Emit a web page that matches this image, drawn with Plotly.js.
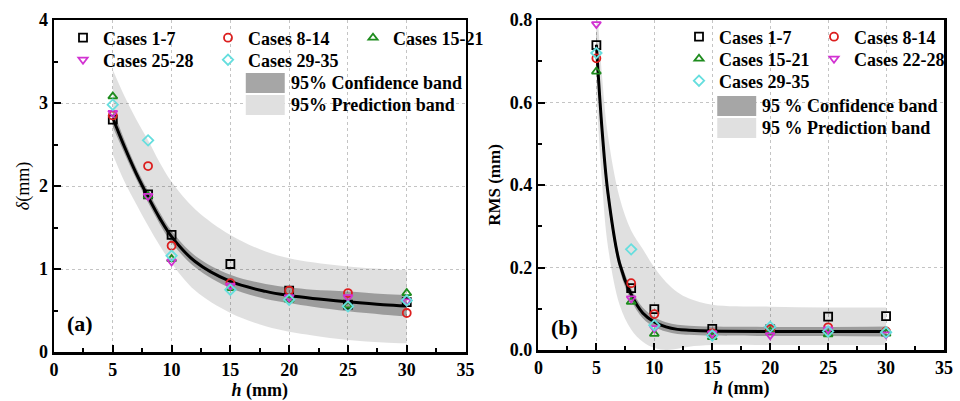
<!DOCTYPE html>
<html>
<head>
<meta charset="utf-8">
<script src="https://cdn.plot.ly/plotly-3.0.1.min.js"></script>
<style>html,body{margin:0;padding:0;background:#fff;}#chart{width:960px;height:401px;}</style>
</head>
<body>
<div id="chart"></div>
<script>
// ---------- data ----------
const hCases = [5, 8, 10, 15, 20, 25, 30];

// panel (a): delta (mm)
const dCases1_7   = [2.80, 1.90, 1.41, 1.06, 0.74, 0.57, 0.60];
const dCases8_14  = [2.85, 2.24, 1.28, 0.83, 0.74, 0.71, 0.47];
const dCases15_21 = [3.08, 1.88, 1.12, 0.77, 0.63, 0.56, 0.71];
const dCases25_28 = [2.88, 1.88, 1.09, 0.80, 0.66, 0.66, 0.61];
const dCases29_35 = [2.98, 2.55, 1.16, 0.75, 0.63, 0.55, 0.62];

const hFitA   = [5, 6, 7, 8, 9, 10, 12, 15, 18, 20, 22, 25, 28, 30];
const dFit    = [2.82, 2.47, 2.15, 1.87, 1.61, 1.39, 1.09, 0.85, 0.73, 0.68, 0.645, 0.605, 0.57, 0.555];
const dConfUp = [2.93, 2.55, 2.22, 1.94, 1.68, 1.46, 1.16, 0.93, 0.82, 0.78, 0.75, 0.73, 0.70, 0.69];
const dConfLo = [2.71, 2.39, 2.08, 1.80, 1.54, 1.32, 1.02, 0.77, 0.64, 0.59, 0.545, 0.49, 0.45, 0.43];
const dPredUp = [3.40, 3.08, 2.80, 2.55, 2.28, 2.05, 1.72, 1.41, 1.21, 1.13, 1.08, 1.03, 1.00, 0.99];
const dPredLo = [2.38, 2.05, 1.78, 1.52, 1.28, 1.07, 0.74, 0.47, 0.31, 0.245, 0.20, 0.145, 0.115, 0.105];

// panel (b): RMS (mm)
const rCases1_7   = [0.739, 0.150, 0.099, 0.051, 0.050, 0.081, 0.082];
const rCases8_14  = [0.707, 0.162, 0.087, 0.040, 0.050, 0.055, 0.045];
const rCases15_21 = [0.675, 0.117, 0.039, 0.031, 0.045, 0.038, 0.040];
const rCases22_28 = [0.790, 0.125, 0.053, 0.040, 0.036, 0.050, 0.038];
const rCases29_35 = [0.720, 0.244, 0.060, 0.035, 0.056, 0.045, 0.043];

const hFitB   = [5, 5.5, 6, 7, 8, 9, 10, 11, 12, 13, 15, 20, 25, 30];
const rFit    = [0.74, 0.53, 0.38, 0.21, 0.135, 0.090, 0.068, 0.056, 0.050, 0.048, 0.046, 0.045, 0.045, 0.045];
const rConfUp = [0.78, 0.56, 0.40, 0.225, 0.150, 0.103, 0.080, 0.067, 0.061, 0.059, 0.057, 0.056, 0.056, 0.057];
const rConfLo = [0.70, 0.50, 0.36, 0.195, 0.120, 0.077, 0.056, 0.045, 0.039, 0.037, 0.035, 0.034, 0.034, 0.033];
const rPredUp = [0.86, 0.66, 0.52, 0.37, 0.29, 0.245, 0.20, 0.165, 0.14, 0.125, 0.11, 0.105, 0.103, 0.103];
const rPredLo = [0.62, 0.40, 0.25, 0.11, 0.05, 0.02, 0.005, 0.0, 0.003, 0.008, 0.012, 0.012, 0.012, 0.012];

const seriesNamesA = ['Cases 1-7', 'Cases 8-14', 'Cases 15-21', 'Cases 25-28', 'Cases 29-35'];
const seriesNamesB = ['Cases 1-7', 'Cases 8-14', 'Cases 15-21', 'Cases 22-28', 'Cases 29-35'];
const bandLabelsA = ['95% Confidence band', '95% Prediction band'];
const bandLabelsB = ['95 % Confidence band', '95 % Prediction band'];

// ---------- styling ----------
const FONT = 'Liberation Serif, Times New Roman, serif';
const colors = ['#000000', '#dc1e1e', '#1e8c1e', '#d232d2', '#66dede'];
const symbols = ['square-open', 'circle-open', 'triangle-up-open', 'triangle-down-open', 'diamond-open'];
const PRED_FILL = 'rgba(0,0,0,0.12)';
const CONF_FILL = 'rgba(0,0,0,0.30)';

const traces = [];
function bandTraces(x, lo, up, fill, xa, ya) {
  traces.push({x: x, y: lo, xaxis: xa, yaxis: ya, mode: 'lines', line: {width: 0, shape: 'spline'}, showlegend: false, hoverinfo: 'skip'});
  traces.push({x: x, y: up, xaxis: xa, yaxis: ya, mode: 'lines', line: {width: 0, shape: 'spline'}, fill: 'tonexty', fillcolor: fill, showlegend: false, hoverinfo: 'skip'});
}
bandTraces(hFitA, dPredLo, dPredUp, PRED_FILL, 'x', 'y');
bandTraces(hFitA, dConfLo, dConfUp, CONF_FILL, 'x', 'y');
traces.push({x: hFitA, y: dFit, xaxis: 'x', yaxis: 'y', mode: 'lines', line: {color: '#000', width: 3, shape: 'spline'}, showlegend: false});
bandTraces(hFitB, rPredLo, rPredUp, PRED_FILL, 'x2', 'y2');
bandTraces(hFitB, rConfLo, rConfUp, CONF_FILL, 'x2', 'y2');
traces.push({x: hFitB, y: rFit, xaxis: 'x2', yaxis: 'y2', mode: 'lines', line: {color: '#000', width: 3, shape: 'spline'}, showlegend: false});

const dSeries = [dCases1_7, dCases8_14, dCases15_21, dCases25_28, dCases29_35];
const rSeries = [rCases1_7, rCases8_14, rCases15_21, rCases22_28, rCases29_35];
const legA = ['legend', 'legend', 'legend', 'legend2', 'legend2'];
const legB = ['legend3', 'legend3', 'legend4', 'legend4', 'legend5'];
dSeries.forEach((ys, i) => traces.push({
  x: hCases, y: ys, xaxis: 'x', yaxis: 'y', mode: 'markers', name: seriesNamesA[i], legend: legA[i],
  marker: {symbol: symbols[i], size: 8, color: colors[i], line: {color: colors[i], width: 1.8}}
}));
rSeries.forEach((ys, i) => traces.push({
  x: hCases, y: ys, xaxis: 'x2', yaxis: 'y2', mode: 'markers', name: seriesNamesB[i], legend: legB[i],
  marker: {symbol: symbols[i], size: 8, color: colors[i], line: {color: colors[i], width: 1.8}}
}));

// ---------- layout helpers (pixel -> paper) ----------
const ML = 54, MR = 15, MT = 20, MB = 49, W = 960, H = 401;
const PW = W - ML - MR, PH = H - MT - MB;
const px = p => (p - ML) / PW;
const py = p => (H - MB - p) / PH;

const tickFont = {family: FONT, size: 18, color: '#000', weight: 'bold'};
function xAxis(domain, anchor) {
  return {
    domain: domain, anchor: anchor, range: [0, 35], dtick: 5, tick0: 0,
    tickprefix: '<b>', ticksuffix: '</b>',
    ticks: 'inside', ticklen: 7, tickwidth: 2, tickcolor: '#000',
    minor: {dtick: 2.5, ticks: 'inside', ticklen: 4, tickwidth: 2, tickcolor: '#000', showgrid: false},
    showline: true, linewidth: 2.5, linecolor: '#000', mirror: true,
    showgrid: true, gridcolor: '#c4c4c4', griddash: 'dot', gridwidth: 1, zeroline: false,
    tickfont: tickFont,
    title: {text: '<b><i>h</i> (mm)</b>', font: {family: FONT, size: 18, color: '#000', weight: 'bold'}, standoff: 5}
  };
}
function yAxis(domain, anchor, range, dtick, minorDtick, fmt, title, titleFont, standoff) {
  return {
    domain: domain, anchor: anchor, range: range, dtick: dtick, tick0: 0, tickformat: fmt,
    tickprefix: '<b>', ticksuffix: '</b>',
    ticks: 'inside', ticklen: 7, tickwidth: 2, tickcolor: '#000',
    minor: {dtick: minorDtick, ticks: 'inside', ticklen: 4, tickwidth: 2, tickcolor: '#000', showgrid: false},
    showline: true, linewidth: 2.5, linecolor: '#000', mirror: true,
    showgrid: true, gridcolor: '#c4c4c4', griddash: 'dot', gridwidth: 1, zeroline: false,
    tickfont: tickFont,
    title: {text: title, font: titleFont, standoff: standoff}
  };
}

const legFont = {family: FONT, size: 18, color: '#000', weight: 'bold'};
function legendAt(xp, yp, ew) {
  return {x: px(xp), y: py(yp), xanchor: 'left', yanchor: 'middle', orientation: 'h',
          traceorder: 'normal',
          bgcolor: 'rgba(0,0,0,0)', borderwidth: 0, font: legFont,
          entrywidth: ew, entrywidthmode: 'pixels', itemclick: false, itemdoubleclick: false,
          tracegroupgap: 0, itemsizing: 'trace'};
}

const shapes = [];
const annotations = [];
function bandLegend(x0, yTop, labels) {
  const realFills = ['#a6a6a6', '#e0e0e0'];
  labels.forEach((t, i) => {
    const y0 = yTop + i * 22;
    shapes.push({type: 'rect', xref: 'paper', yref: 'paper', x0: px(x0), x1: px(x0 + 39), y0: py(y0 + 20), y1: py(y0),
                 fillcolor: realFills[i], line: {width: 0}});
    annotations.push({xref: 'paper', yref: 'paper', x: px(x0 + 43), y: py(y0 + 10), xanchor: 'left', yanchor: 'middle',
                      text: t, showarrow: false, font: legFont});
  });
}
bandLegend(246, 73, bandLabelsA);
bandLegend(718, 96, bandLabelsB);

annotations.push({xref: 'paper', yref: 'paper', x: px(80), y: py(323), xanchor: 'center', yanchor: 'middle',
                  text: '<b>(a)</b>', showarrow: false, font: {family: FONT, size: 22, color: '#000', weight: 'bold'}});
annotations.push({xref: 'paper', yref: 'paper', x: px(565), y: py(327), xanchor: 'center', yanchor: 'middle',
                  text: '<b>(b)</b>', showarrow: false, font: {family: FONT, size: 22, color: '#000', weight: 'bold'}});

const layout = {
  width: W, height: H,
  margin: {l: ML, r: MR, t: MT, b: MB, pad: 0},
  paper_bgcolor: '#fff', plot_bgcolor: '#fff',
  font: {family: FONT, color: '#000'},
  xaxis: xAxis([0, px(466)], 'y'),
  yaxis: yAxis([0, 1], 'x', [0, 4], 1, 0.5, '', '<i>δ</i>(mm)', {family: FONT, size: 18, color: '#000'}, 5),
  xaxis2: xAxis([px(539), px(945)], 'y2'),
  yaxis2: yAxis([py(350), 1], 'x2', [0, 0.8], 0.2, 0.1, '.1f', '<b>RMS (mm)</b>', {family: FONT, size: 17, color: '#000', weight: 'bold'}, 5),
  legend: legendAt(63, 38, 100),
  legend2: legendAt(63, 60, 100),
  legend3: legendAt(679, 37, 90),
  legend4: legendAt(679, 59, 90),
  legend5: legendAt(679, 81, 90),
  shapes: shapes,
  annotations: annotations,
  showlegend: true
};

Plotly.newPlot('chart', traces, layout, {staticPlot: true, displayModeBar: false});
</script>
</body>
</html>
